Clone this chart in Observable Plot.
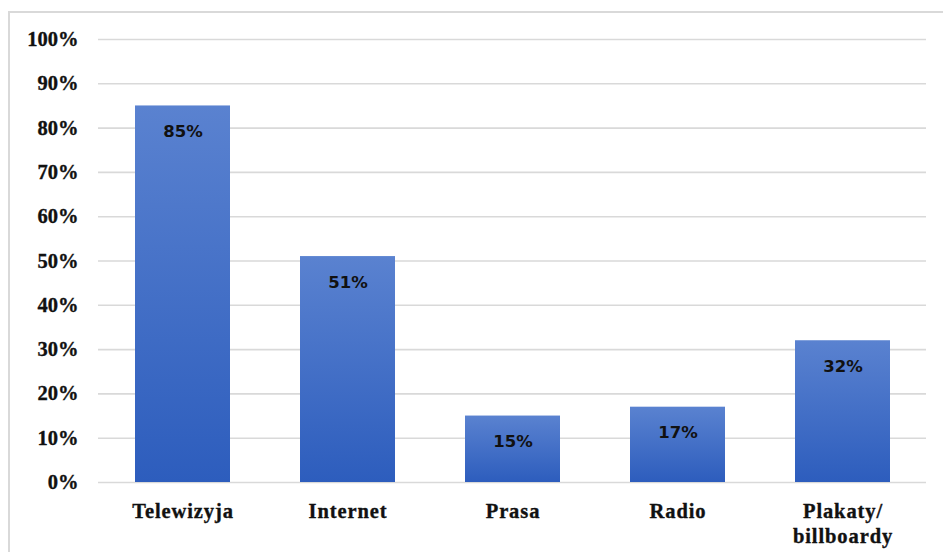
<!DOCTYPE html>
<html>
<head>
<meta charset="utf-8">
<script src="https://cdn.jsdelivr.net/npm/d3@7"></script>
<script src="https://cdn.jsdelivr.net/npm/@observablehq/plot@0.6"></script>
<style>
  html, body { margin: 0; padding: 0; background: #fff; overflow: hidden; }
  #wrap { position: relative; width: 943px; height: 552px; }
  #border { position: absolute; left: 8px; top: 11px; width: 1200px; height: 1200px;
            border: 2px solid #d9d9d9; pointer-events: none; box-sizing: border-box; }
</style>
</head>
<body>
<div id="wrap"><div id="border"></div></div>
<script>
const categories = ["Telewizyja", "Internet", "Prasa", "Radio", "Plakaty/\nbillboardy"];
const values = [85, 51, 15, 17, 32];
const yTicks = [0, 10, 20, 30, 40, 50, 60, 70, 80, 90, 100];

const data = categories.map((c, i) => ({category: c, value: values[i]}));

const chart = Plot.plot({
  width: 943,
  height: 552,
  marginLeft: 98,
  marginRight: 17,
  marginTop: 39,
  marginBottom: 70,
  style: {fontFamily: "'Liberation Serif', 'Times New Roman', serif", background: "transparent"},
  x: {domain: categories, paddingInner: 0.426, paddingOuter: 0.213, label: null},
  y: {domain: [0, 100], label: null},
  marks: [
    Plot.ruleY(yTicks, {stroke: "#d9d9d9", strokeWidth: 1.6}),
    Plot.barY(data, {x: "category", y: "value", fill: "url(#barGrad)", style: "filter: drop-shadow(1px 1px 1.5px rgba(0,0,0,0.3))"}),
    Plot.text(data, {x: "category", y: "value", text: d => d.value + "%", dy: 26,
      fontFamily: "'DejaVu Sans', Verdana, sans-serif", fontWeight: "bold", fontSize: 16.5, fill: "#111"}),
    Plot.axisY({ticks: yTicks, tickSize: 0, tickPadding: 20, tickFormat: d => d + "%",
      fontSize: 20.5, fontWeight: "bold", fill: "#111"}),
    Plot.axisX({tickSize: 0, tickPadding: 18, fontSize: 20.5, fontWeight: "bold", lineHeight: 1.22,
      fill: "#111"})
  ]
});

d3.select(chart).selectAll('g[aria-label="x-axis tick label"]')
  .style("letter-spacing", "0.9px");
d3.select(chart).selectAll('g[aria-label="x-axis tick label"] text, g[aria-label="y-axis tick label"] text')
  .style("stroke", "#111").style("stroke-width", "0.35px");

const defs = d3.select(chart).insert("defs", ":first-child");
const g = defs.append("linearGradient").attr("id", "barGrad")
  .attr("x1", 0).attr("y1", 0).attr("x2", 0).attr("y2", 1);
g.append("stop").attr("offset", "0%").attr("stop-color", "#5a82d0");
g.append("stop").attr("offset", "100%").attr("stop-color", "#2d5dbd");

chart.style.position = "absolute";
chart.style.left = "0";
chart.style.top = "0";
document.getElementById("wrap").insertBefore(chart, document.getElementById("border"));
</script>
</body>
</html>
